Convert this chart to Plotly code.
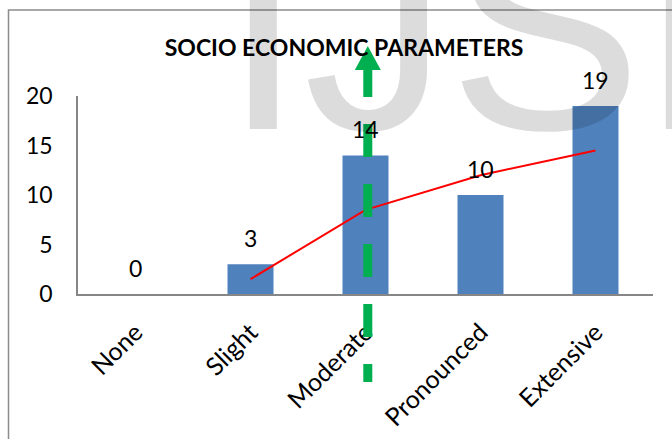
import plotly.graph_objects as go

# ---- data ----
categories = ["None", "Slight", "Moderate", "Pronounced", "Extensive"]
values = [0, 3, 14, 10, 19]
trend_values = [None, 1.5, 8.5, 12, 14.5]   # red trend line (2-period moving average as read)
y_ticks = [0, 5, 10, 15, 20]
title_text = "SOCIO ECONOMIC PARAMETERS"
watermark_text = "IJSR"
arrow_category = "Moderate"

# ---- geometry ----
W, H = 672, 439
ML, MR, MT, MB = 78, 19, 96, 145
PW = W - ML - MR
PH = H - MT - MB


def py(pix):
    return (H - MB - pix) / PH


def pxp(pix):
    return (pix - ML) / PW


FONT = "Lato, Carlito, 'Open Sans', sans-serif"
xs = list(range(len(categories)))

fig = go.Figure()
fig.add_trace(go.Bar(
    x=xs, y=values, width=0.4,
    marker=dict(color="#4F81BD", line=dict(width=0)),
    hoverinfo="skip", showlegend=False,
))
fig.add_trace(go.Scatter(
    x=xs, y=trend_values, mode="lines",
    line=dict(color="#FF0000", width=2),
    hoverinfo="skip", showlegend=False,
))

annotations = []
# watermark
annotations.append(dict(
    xref="paper", yref="paper", x=pxp(221), y=py(192.5),
    xanchor="left", yanchor="bottom", showarrow=False,
    text=watermark_text,
    font=dict(family="Liberation Sans, Arial", size=290, color="rgba(0,0,0,0.137)"),
))
# data labels
for xi, v in zip(xs, values):
    annotations.append(dict(
        x=xi, y=v, xref="x", yref="y", yshift=26,
        xanchor="center", yanchor="middle", showarrow=False,
        text=str(v), font=dict(family=FONT, size=23, color="black"),
    ))

ax_x = categories.index(arrow_category) + 0.02
half = 13 / (PW / len(categories))
green = "#00B050"
shapes = [
    # outer chart border (left + top)
    dict(type="path", xref="paper", yref="paper",
         path=f"M {pxp(8.5)},{py(460)} L {pxp(8.5)},{py(10)} L {pxp(690)},{py(10)}",
         line=dict(color="#8C8C8C", width=1.5)),
    # dashed arrow shaft
    dict(type="line", xref="x", yref="paper", x0=ax_x, x1=ax_x, y0=py(64), y1=py(382),
         line=dict(color=green, width=9, dash="33px,27px"), layer="above"),
    # arrow head
    dict(type="path", xref="x", yref="paper",
         path=f"M {ax_x-half},{py(70)} L {ax_x},{py(46)} L {ax_x+half},{py(70)} Z",
         fillcolor=green, line=dict(width=0), layer="above"),
]

fig.update_layout(
    width=W, height=H,
    margin=dict(l=ML, r=MR, t=MT, b=MB, autoexpand=False),
    paper_bgcolor="white", plot_bgcolor="white",
    showlegend=False, hovermode=False,
    title=dict(text=title_text, x=344 / W, y=1 - 47.5 / H, xref="container", yref="container",
               xanchor="center", yanchor="middle", automargin=False,
               font=dict(family=FONT, size=23, color="black", weight=700)),
    xaxis=dict(range=[-0.5, len(categories) - 0.5], tickvals=xs, ticktext=categories,
               tickangle=-45, showline=True, linecolor="#868686", linewidth=1.5,
               showgrid=False, zeroline=False, ticks="", ticklabelstandoff=12, automargin=False,
               tickfont=dict(family=FONT, size=25, color="black")),
    yaxis=dict(range=[0, 20], tickvals=y_ticks, showline=True, linecolor="#868686", linewidth=1.5,
               showgrid=False, zeroline=False, ticks="", ticklabelstandoff=19, automargin=False,
               tickfont=dict(family=FONT, size=23, color="black")),
    annotations=annotations,
    shapes=shapes,
)

fig.write_html("out.html")
